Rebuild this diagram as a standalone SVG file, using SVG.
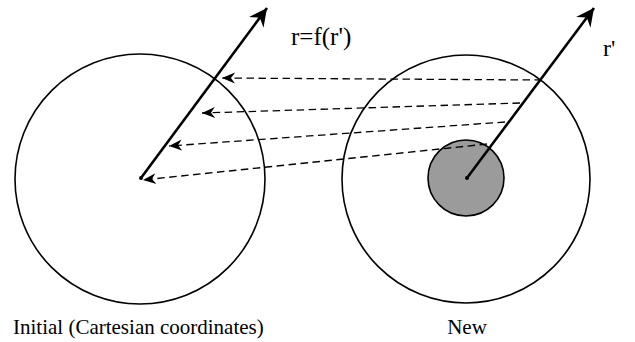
<svg xmlns="http://www.w3.org/2000/svg" width="635" height="342" viewBox="0 0 635 342">
<style>
.c{fill:none;stroke:#000;stroke-width:1.6}
.t{fill:#000}
.ax{stroke:#000;stroke-width:2.6;fill:none}
.d{stroke:#000;stroke-width:1.3;stroke-dasharray:7.5,4.5;fill:none}
</style>
<defs>
<marker id="big" viewBox="0 0 20 20" refX="18" refY="10" markerWidth="20" markerHeight="20" markerUnits="userSpaceOnUse" orient="auto">
<path d="M18,10 L0,1 L6,10 L0,19 Z" fill="#000"/>
</marker>
<marker id="sm" viewBox="0 0 14 12" refX="13" refY="6" markerWidth="14" markerHeight="12" markerUnits="userSpaceOnUse" orient="auto">
<path d="M13,6 L0,0.5 L4,6 L0,11.5 Z" fill="#000"/>
</marker>
</defs>
<g id="initial">
<circle class="c" cx="140" cy="179" r="125"/>
<circle cx="141" cy="178" r="2" fill="#000"/>
<text class="t" x="13" y="334" font-size="21" font-family="Liberation Serif, Times New Roman, serif">Initial (Cartesian coordinates)</text>
</g>
<g id="new">
<circle class="c" cx="466" cy="179" r="124"/>
<circle cx="466" cy="178" r="38" fill="#9b9b9b" stroke="#000" stroke-width="1.6"/>
<circle cx="467" cy="178" r="2" fill="#000"/>
<text class="t" x="467" y="334" font-size="21" text-anchor="middle" font-family="Liberation Serif, Times New Roman, serif">New</text>
</g>
<g id="axes">
<line class="ax" x1="141" y1="178" x2="267" y2="8" marker-end="url(#big)"/>
<text class="t" x="291" y="45" font-size="25" font-family="Liberation Serif, Times New Roman, serif">r=f(r')</text>
<line class="ax" x1="467" y1="178" x2="594" y2="8" marker-end="url(#big)"/>
<text class="t" x="603" y="56" font-size="24" font-family="Liberation Serif, Times New Roman, serif">r'</text>
</g>
<g id="connectors">
<line class="d" x1="542" y1="80" x2="222" y2="78" marker-end="url(#sm)"/>
<line class="d" x1="520" y1="103" x2="202" y2="113" marker-end="url(#sm)"/>
<line class="d" x1="505" y1="122" x2="169" y2="146" marker-end="url(#sm)"/>
<line class="d" x1="487" y1="144" x2="143" y2="180" marker-end="url(#sm)"/>
</g>
</svg>
